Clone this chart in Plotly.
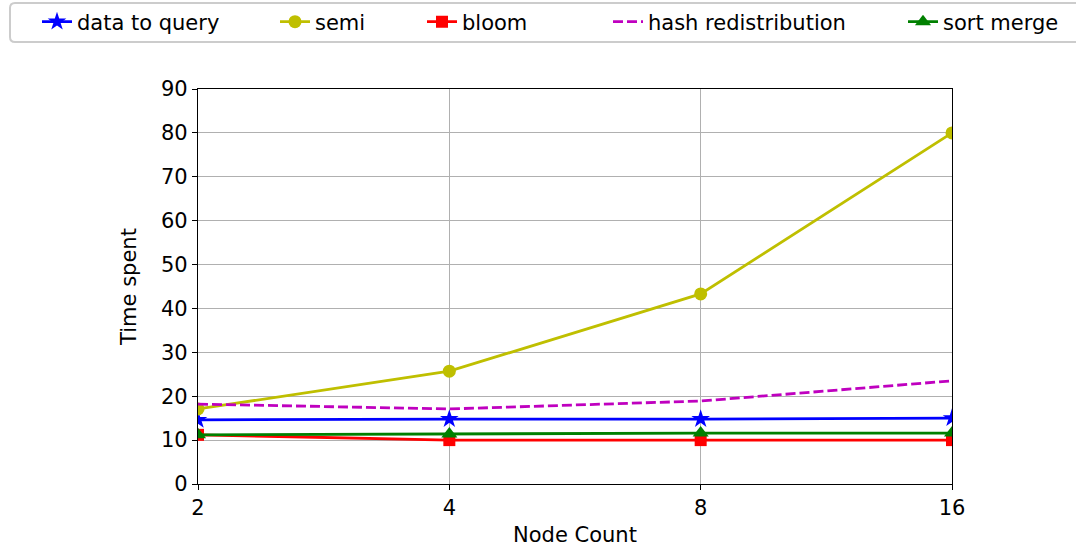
import plotly.graph_objects as go

node_counts = [2, 4, 8, 16]
data_to_query = [14.6, 14.8, 14.8, 15.0]
semi = [17.1, 25.7, 43.3, 80.0]
bloom = [11.2, 10.0, 10.0, 10.0]
hash_redistribution = [18.2, 17.1, 18.9, 23.5]
sort_merge = [11.2, 11.4, 11.6, 11.6]
y_ticks = [0, 10, 20, 30, 40, 50, 60, 70, 80, 90]

W, H = 1076, 547
L, R, T, B = 198, 952, 89, 484  # plot area in pixels


def px_x(p):
    return (p - L) / (R - L)


def px_y(p):
    return (B - p) / (B - T)


FONT = "DejaVu Sans"
FS = 21

series = [
    ("data to query", data_to_query, "#0000ff", "star", 14, "solid", "legend"),
    ("semi", semi, "#bfbf00", "circle", 13, "solid", "legend2"),
    ("bloom", bloom, "#ff0000", "square", 12, "solid", "legend3"),
    ("hash redistribution", hash_redistribution, "#bf00bf", None, 0, "10px,4px", "legend4"),
    ("sort merge", sort_merge, "#008000", "triangle-up", 14, "solid", "legend5"),
]

fig = go.Figure()
for name, ys, color, sym, size, dash, leg in series:
    fig.add_trace(go.Scatter(
        x=node_counts, y=ys, name=name, showlegend=True,
        mode="lines+markers" if sym else "lines",
        line=dict(color=color, width=2.8, dash=dash),
        marker=dict(symbol=sym or "circle", size=size, color=color,
                    line=dict(width=0)),
        legend=leg,
    ))

# legend entries laid out on one row at fixed pixel positions
text_starts = [77, 315, 462, 648, 943]
legend_cfg = {}
for i, tx in enumerate(text_starts):
    key = "legend" if i == 0 else f"legend{i + 1}"
    legend_cfg[key] = dict(
        x=px_x(tx - 40), y=px_y(22), xref="paper", yref="paper",
        xanchor="left", yanchor="middle", orientation="h",
        bgcolor="rgba(0,0,0,0)", borderwidth=0,
        font=dict(family=FONT, size=FS, color="#000"),
    )

# rounded frame around the legend row
x0, x1 = px_x(10), px_x(1092)
y0, y1 = px_y(42), px_y(3)
rx, ry = 5 / (R - L), 5 / (B - T)
frame = (f"M{x0 + rx},{y1} L{x1 - rx},{y1} Q{x1},{y1} {x1},{y1 - ry} "
         f"L{x1},{y0 + ry} Q{x1},{y0} {x1 - rx},{y0} L{x0 + rx},{y0} "
         f"Q{x0},{y0} {x0},{y0 + ry} L{x0},{y1 - ry} Q{x0},{y1} {x0 + rx},{y1} Z")

fig.update_layout(
    width=W, height=H,
    margin=dict(l=L, r=W - R, t=T, b=H - B, pad=0, autoexpand=False),
    paper_bgcolor="white", plot_bgcolor="white",
    font=dict(family=FONT, size=FS, color="#000"),
    shapes=[dict(type="path", path=frame, xref="paper", yref="paper",
                 line=dict(color="#cccccc", width=2), fillcolor="white",
                 layer="below")],
    xaxis=dict(
        type="log", range=[0.30103, 1.20412],
        tickvals=node_counts, ticktext=[str(v) for v in node_counts],
        showgrid=True, gridcolor="#b0b0b0", gridwidth=1,
        showline=True, linecolor="#000", linewidth=1.2, mirror=True,
        ticks="outside", ticklen=5, tickcolor="#000",
        title=dict(text="Node Count", font=dict(size=FS), standoff=8),
        tickfont=dict(size=FS), zeroline=False,
    ),
    yaxis=dict(
        range=[0, 90], tickvals=y_ticks,
        showgrid=True, gridcolor="#b0b0b0", gridwidth=1,
        showline=True, linecolor="#000", linewidth=1.2, mirror=True,
        ticks="outside", ticklen=5, tickcolor="#000",
        title=dict(text="Time spent", font=dict(size=FS), standoff=18),
        tickfont=dict(size=FS), zeroline=False,
    ),
    **legend_cfg,
)

fig.write_html("out.html")
